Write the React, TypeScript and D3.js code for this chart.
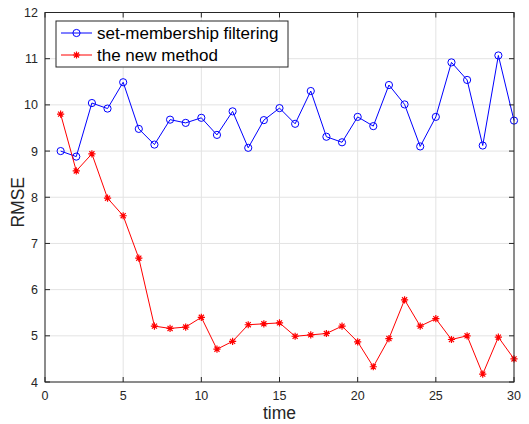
import React from 'react';
import * as d3 from 'd3';

// time steps 1..30
const times = d3.range(1, 31);
const setMembership = [
  9.0, 8.88, 10.04, 9.92, 10.49, 9.48, 9.14, 9.68, 9.61, 9.72,
  9.35, 9.86, 9.07, 9.67, 9.93, 9.59, 10.3, 9.31, 9.19, 9.74,
  9.54, 10.43, 10.01, 9.1, 9.74, 10.92, 10.54, 9.12, 11.07, 9.66,
];
const newMethod = [
  9.8, 8.57, 8.94, 7.98, 7.6, 6.68, 5.21, 5.16, 5.19, 5.4,
  4.71, 4.88, 5.24, 5.26, 5.28, 4.99, 5.02, 5.05, 5.21, 4.87,
  4.33, 4.94, 5.78, 5.21, 5.37, 4.92, 5.0, 4.17, 4.97, 4.5,
];
const xTicks = [0, 5, 10, 15, 20, 25, 30];
const yTicks = [4, 5, 6, 7, 8, 9, 10, 11, 12];
const legendLabels = ['set-membership filtering', 'the new method'];

const W = 529, H = 424;
const m = { left: 45, right: 15, top: 12.5, bottom: 42 };
const font = '"Liberation Sans", Arial, sans-serif';
const axisColor = '#262626';

const Star = ({ x, y, r, color }: { x: number; y: number; r: number; color: string }) => {
  const d = [0, 45, 90, 135].map(a => {
    const rad = (a * Math.PI) / 180;
    const dx = Math.cos(rad) * r, dy = Math.sin(rad) * r;
    return `M${x - dx},${y - dy}L${x + dx},${y + dy}`;
  }).join('');
  return <path d={d} stroke={color} strokeWidth={1.2} fill="none" />;
};

export default function App() {
  const x = d3.scaleLinear().domain([0, 30]).range([m.left, W - m.right]);
  const y = d3.scaleLinear().domain([4, 12]).range([H - m.bottom, m.top]);
  const line = d3.line<number>().x((_, i) => x(times[i])).y(d => y(d));
  const x0 = x(0), x1 = x(30), y0 = y(4), y1 = y(12);

  return (
    <svg width={W} height={H} style={{ position: 'absolute', left: 0, top: 0 }}>
      <rect x={0} y={0} width={W} height={H} fill="#fff" />
      {/* grid */}
      {xTicks.map(t => (
        <line key={'gx' + t} x1={x(t)} x2={x(t)} y1={y0} y2={y1} stroke="#e3e3e3" strokeWidth={1} />
      ))}
      {yTicks.map(t => (
        <line key={'gy' + t} x1={x0} x2={x1} y1={y(t)} y2={y(t)} stroke="#e3e3e3" strokeWidth={1} />
      ))}
      {/* series */}
      <path d={line(setMembership) || ''} fill="none" stroke="#0000ff" strokeWidth={1} />
      {setMembership.map((v, i) => (
        <circle key={'c' + i} cx={x(times[i])} cy={y(v)} r={3.6} fill="none" stroke="#0000ff" strokeWidth={1} />
      ))}
      <path d={line(newMethod) || ''} fill="none" stroke="#ff0000" strokeWidth={1} />
      {newMethod.map((v, i) => (
        <Star key={'s' + i} x={x(times[i])} y={y(v)} r={3.6} color="#ff0000" />
      ))}
      {/* box and ticks */}
      <rect x={x0} y={y1} width={x1 - x0} height={y0 - y1} fill="none" stroke={axisColor} strokeWidth={1} />
      {xTicks.map(t => (
        <g key={'tx' + t}>
          <line x1={x(t)} x2={x(t)} y1={y0} y2={y0 - 5} stroke={axisColor} />
          <line x1={x(t)} x2={x(t)} y1={y1} y2={y1 + 5} stroke={axisColor} />
          <text x={x(t)} y={y0 + 18} textAnchor="middle" fontFamily={font} fontSize={12.5} fill={axisColor}>{t}</text>
        </g>
      ))}
      {yTicks.map(t => (
        <g key={'ty' + t}>
          <line x1={x0} x2={x0 + 5} y1={y(t)} y2={y(t)} stroke={axisColor} />
          <line x1={x1} x2={x1 - 5} y1={y(t)} y2={y(t)} stroke={axisColor} />
          <text x={x0 - 7} y={y(t) + 4.5} textAnchor="end" fontFamily={font} fontSize={12.5} fill={axisColor}>{t}</text>
        </g>
      ))}
      <text x={(x0 + x1) / 2} y={H - 5} textAnchor="middle" fontFamily={font} fontSize={17.5} fill={axisColor}>time</text>
      <text transform={`translate(24,${(y0 + y1) / 2 + 5}) rotate(-90)`} textAnchor="middle" fontFamily={font} fontSize={17.5} fill={axisColor}>RMSE</text>
      {/* legend */}
      <rect x={56} y={21} width={232} height={46} fill="#fff" stroke={axisColor} strokeWidth={1} />
      <line x1={61} x2={92} y1={33} y2={33} stroke="#0000ff" />
      <circle cx={76.5} cy={33} r={3.6} fill="none" stroke="#0000ff" />
      <text x={97} y={39} fontFamily={font} fontSize={17} fill="#000">{legendLabels[0]}</text>
      <line x1={61} x2={92} y1={55} y2={55} stroke="#ff0000" />
      <Star x={76.5} y={55} r={3.6} color="#ff0000" />
      <text x={97} y={61} fontFamily={font} fontSize={17} fill="#000">{legendLabels[1]}</text>
    </svg>
  );
}
